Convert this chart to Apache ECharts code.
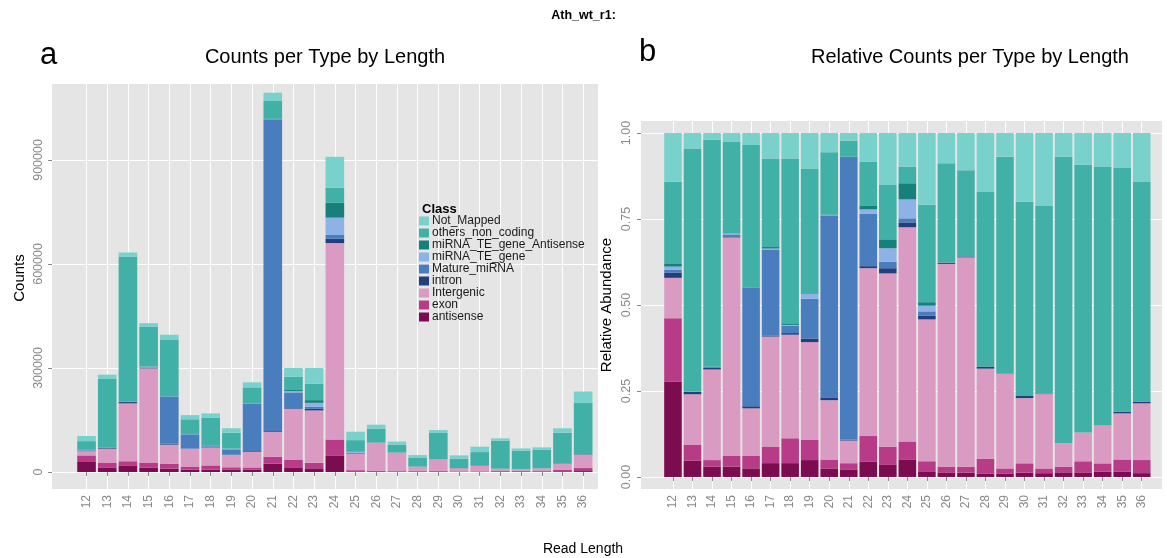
<!DOCTYPE html>
<html>
<head>
<meta charset="utf-8">
<script src="https://cdn.jsdelivr.net/npm/echarts@6/dist/echarts.min.js"></script>
<style>
  html, body { margin: 0; padding: 0; background: #ffffff; }
  #chart { width: 1167px; height: 558px; }
</style>
</head>
<body>
<div id="chart"></div>
<script>
// Read lengths (x categories)
const lengths = ['12','13','14','15','16','17','18','19','20','21','22','23','24',
                 '25','26','27','28','29','30','31','32','33','34','35','36'];

// Read counts per class and length (stacked bottom to top in this order)
const antisense        = [28800, 13200, 19000, 12900,  9900, 6600, 6800, 6200,  6400,  24000, 13500, 10500, 46400, 1900, 1800, 1100,  500,  1100,  600,   800,  1300,  900,  1100,  2000,   2600];
const exon             = [19100, 12900, 12000, 13300, 14200, 7900, 12200, 7400, 6700,  19700, 22200, 15900, 47300, 3400, 2300, 1500, 2100,  1900, 1300,  1000,  1600, 2200,  1700,  4400,   8800];
const intergenic       = [12200, 41400, 166900, 272800, 54900, 52500, 50900, 35900, 44600, 72100, 146400, 151200, 566300, 47900, 80400, 53400, 12800, 33400, 9100, 15800, 6600, 5700, 7900, 16900, 38300];
const intron           = [1600, 2000, 3800, 1300, 2400, 500, 800, 1300, 2100, 2200, 1800, 4500, 12700, 1200, 400, 200, 300, 100, 300, 100, 0, 0, 0, 600, 1200];
const matureMiRNA      = [800, 300, 500, 1700, 136300, 40800, 3500, 14600, 136700, 899500, 45600, 5700, 10900, 1500, 100, 100, 0, 0, 0, 0, 0, 0, 0, 0, 0];
const miRNATEgene      = [1000, 200, 300, 1700, 400, 700, 500, 1900, 300, 500, 3900, 11700, 50000, 1900, 100, 0, 0, 0, 0, 0, 0, 0, 0, 0, 0];
const miRNATEgeneAnti  = [800, 200, 300, 400, 400, 700, 800, 200, 300, 500, 3000, 7800, 42700, 1200, 100, 0, 0, 0, 0, 0, 0, 0, 0, 0, 0];
const othersNonCoding  = [24800, 197900, 417800, 114500, 163600, 42300, 81000, 45700, 47000, 51400, 38700, 47400, 43600, 32900, 39200, 21900, 24800, 76200, 27100, 39800, 80800, 52900, 53300, 89500, 148500];
const notMapped        = [14700, 12600, 12600, 10700, 13800, 12100, 12500, 13000, 14400, 24000, 24900, 45300, 89100, 24200, 12000, 9500, 8400, 8300, 9600, 15500, 6700, 6300, 7000, 12600, 32700];

// Tick values of the two value axes
const countTicks = [0, 300000, 600000, 900000];
const relTicks = [0, 0.25, 0.5, 0.75, 1];

const classes = [
  { name: 'antisense',               values: antisense,       color: '#7b0c4f' },
  { name: 'exon',                    values: exon,            color: '#b83b87' },
  { name: 'Intergenic',              values: intergenic,      color: '#d99bc1' },
  { name: 'intron',                  values: intron,          color: '#203f7c' },
  { name: 'Mature_miRNA',            values: matureMiRNA,     color: '#4a7dbe' },
  { name: 'miRNA_TE_gene',           values: miRNATEgene,     color: '#8db3e6' },
  { name: 'miRNA_TE_gene_Antisense', values: miRNATEgeneAnti, color: '#18807a' },
  { name: 'others_non_coding',       values: othersNonCoding, color: '#41b0a7' },
  { name: 'Not_Mapped',              values: notMapped,       color: '#79d1cb' }
];

// Totals per length for the relative panel
const totals = lengths.map((_, i) => classes.reduce((s, c) => s + c.values[i], 0));

const FONT = '"Liberation Sans", Arial, Helvetica, sans-serif';
const PANEL_BG = '#e5e5e5';
const AXIS_GREY = '#888888';

const chart = echarts.init(document.getElementById('chart'), null, { renderer: 'canvas' });

const series = [];
classes.forEach(c => {
  series.push({
    name: c.name, type: 'bar', stack: 'counts',
    xAxisIndex: 1, yAxisIndex: 1,
    barCategoryGap: '10%',
    itemStyle: { color: c.color },
    emphasis: { disabled: true },
    data: c.values
  });
  series.push({
    name: c.name, type: 'bar', stack: 'relative',
    xAxisIndex: 3, yAxisIndex: 3,
    barCategoryGap: '10%',
    itemStyle: { color: c.color },
    emphasis: { disabled: true },
    data: c.values.map((v, i) => v / totals[i])
  });
});

const hiddenValueX = (gridIndex) => ({
  type: 'value', gridIndex, min: 0, max: 1,
  show: false, splitLine: { show: false }
});

const catX = (gridIndex) => ({
  type: 'category', gridIndex, data: lengths, z: 1,
  axisLine: { show: false },
  axisTick: { show: true, alignWithLabel: true, length: 4, lineStyle: { color: AXIS_GREY } },
  axisLabel: { rotate: 90, color: AXIS_GREY, fontSize: 12, fontFamily: FONT, margin: 6 },
  splitLine: { show: true, alignWithLabel: true, lineStyle: { color: '#ffffff', width: 1 } }
});

const option = {
  animation: false,
  backgroundColor: '#ffffff',
  textStyle: { fontFamily: FONT },
  grid: [
    { left: 52, top: 84, width: 546, height: 405, show: true, backgroundColor: PANEL_BG, borderWidth: 0, z: 0, outerBoundsMode: 'none' },
    { left: 76.2, top: 84, width: 517.3, height: 405, show: false, outerBoundsMode: 'none' },
    { left: 641, top: 121, width: 521, height: 368, show: true, backgroundColor: PANEL_BG, borderWidth: 0, z: 0, outerBoundsMode: 'none' },
    { left: 663.2, top: 121, width: 488.3, height: 368, show: false, outerBoundsMode: 'none' }
  ],
  xAxis: [hiddenValueX(0), catX(1), hiddenValueX(2), catX(3)],
  yAxis: [
    {
      type: 'value', gridIndex: 0, min: -49000, max: 1119000, z: 1,
      axisLine: { show: false },
      axisTick: { show: true, length: 4, customValues: countTicks, lineStyle: { color: AXIS_GREY } },
      axisLabel: { customValues: countTicks, rotate: 90, color: AXIS_GREY, fontSize: 12.5, fontFamily: FONT, margin: 7,
                   formatter: v => String(v) },
      splitLine: { show: true, lineStyle: { color: '#ffffff', width: 1 } }
    },
    { type: 'value', gridIndex: 1, min: -49000, max: 1119000, show: false, splitLine: { show: false } },
    {
      type: 'value', gridIndex: 2, min: -0.035, max: 1.035, z: 1,
      axisLine: { show: false },
      axisTick: { show: true, length: 4, customValues: relTicks, lineStyle: { color: AXIS_GREY } },
      axisLabel: { customValues: relTicks, rotate: 90, color: AXIS_GREY, fontSize: 12.5, fontFamily: FONT, margin: 8,
                   formatter: v => v.toFixed(2) },
      splitLine: { show: true, lineStyle: { color: '#ffffff', width: 1 } }
    },
    { type: 'value', gridIndex: 3, min: -0.035, max: 1.035, show: false, splitLine: { show: false } }
  ],
  legend: {
    orient: 'vertical', left: 419, top: 215,
    itemWidth: 10, itemHeight: 9, itemGap: 0, padding: 0,
    icon: 'rect', selectedMode: false,
    textStyle: { fontSize: 12, lineHeight: 9, color: '#1a1a1a', fontFamily: FONT, padding: [1, 0, 0, -2] },
    data: classes.map(c => c.name).reverse()
  },
  title: [
    { text: 'Ath_wt_r1:', left: 'center', top: 4, textStyle: { fontSize: 12.5, fontWeight: 'bold', color: '#000', fontFamily: FONT } },
    { text: 'Class', left: 417, top: 198, textStyle: { fontSize: 13, fontWeight: 'bold', color: '#000', fontFamily: FONT } }
  ],
  graphic: [
    { type: 'text', left: 40, top: 40, style: { text: 'a', font: '31px ' + FONT, fill: '#000' } },
    { type: 'text', left: 639, top: 37, style: { text: 'b', font: '31px ' + FONT, fill: '#000' } },
    { type: 'text', x: 325, y: 57, style: { text: 'Counts per Type by Length', font: '20px ' + FONT, fill: '#000', align: 'center', verticalAlign: 'middle' } },
    { type: 'text', x: 970, y: 57, style: { text: 'Relative Counts per Type by Length', font: '20px ' + FONT, fill: '#000', align: 'center', verticalAlign: 'middle' } },
    { type: 'text', x: 20, y: 278, rotation: Math.PI / 2, style: { text: 'Counts', font: '15px ' + FONT, fill: '#000', align: 'center', verticalAlign: 'middle' } },
    { type: 'text', x: 607, y: 305, rotation: Math.PI / 2, style: { text: 'Relative Abundance', font: '15px ' + FONT, fill: '#000', align: 'center', verticalAlign: 'middle' } },
    { type: 'text', x: 583, y: 549, style: { text: 'Read Length', font: '14px ' + FONT, fill: '#000', align: 'center', verticalAlign: 'middle' } }
  ],
  series
};

chart.setOption(option);
</script>
</body>
</html>
